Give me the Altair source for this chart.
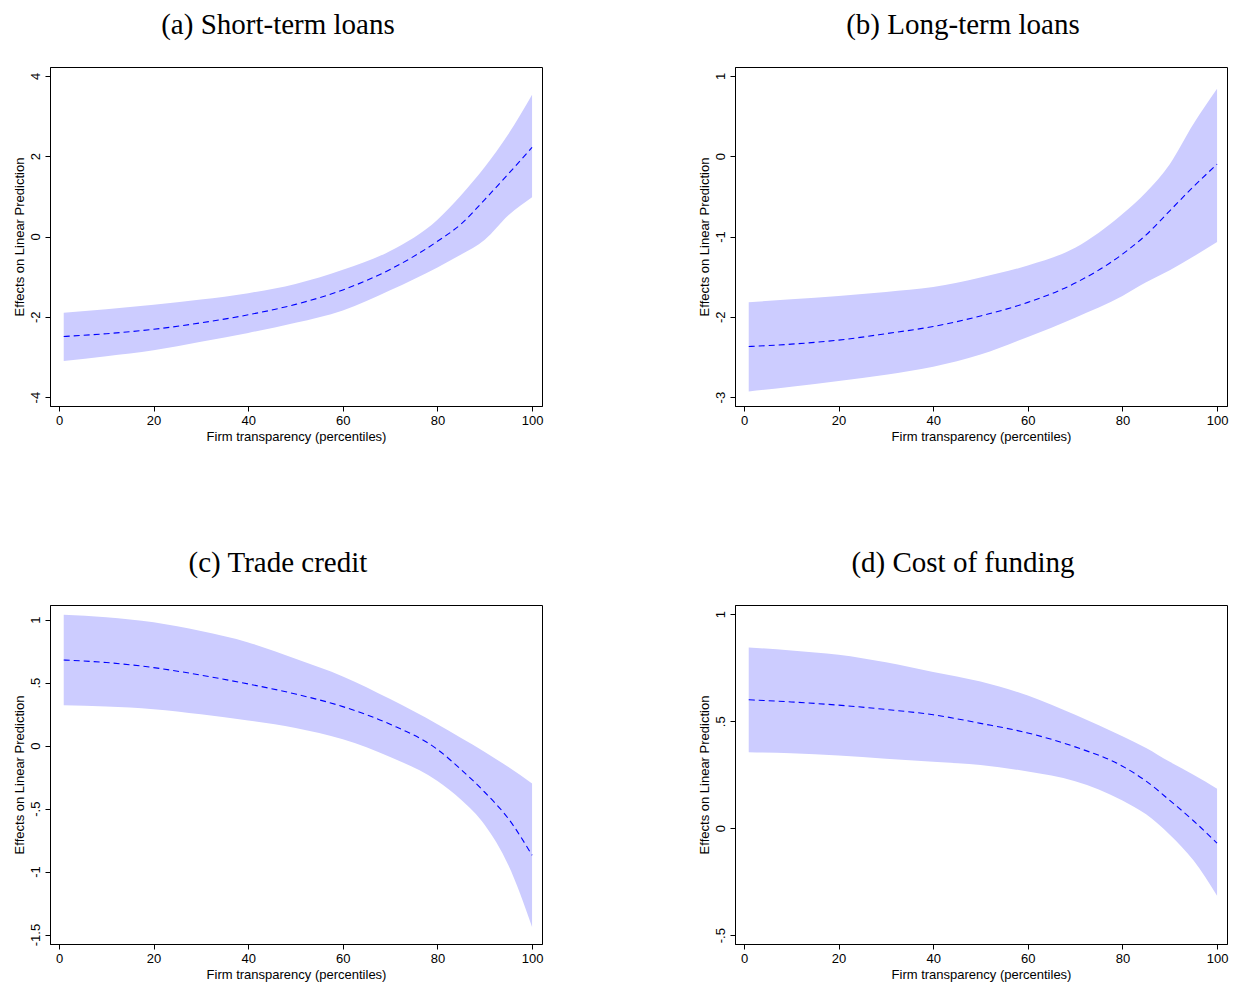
import altair as alt
import pandas as pd

# Firm transparency percentiles at which margins are evaluated
x_pct = [1, 10, 20, 30, 40, 50, 60, 70, 80, 85, 90, 95, 100]

# (a) Short-term loans
a_mid = [-2.49, -2.42, -2.31, -2.15, -1.95, -1.69, -1.33, -0.82, -0.12, 0.31, 0.92, 1.56, 2.22]
a_hi = [-1.90, -1.81, -1.70, -1.57, -1.41, -1.18, -0.83, -0.36, 0.42, 1.03, 1.73, 2.55, 3.53]
a_lo = [-3.10, -2.98, -2.83, -2.62, -2.40, -2.15, -1.84, -1.34, -0.77, -0.45, -0.08, 0.53, 0.98]

# (b) Long-term loans
b_mid = [-2.37, -2.34, -2.29, -2.21, -2.12, -1.99, -1.82, -1.58, -1.22, -0.98, -0.68, -0.38, -0.10]
b_hi = [-1.82, -1.78, -1.74, -1.69, -1.63, -1.51, -1.36, -1.14, -0.72, -0.45, -0.10, 0.40, 0.84]
b_lo = [-2.93, -2.87, -2.80, -2.72, -2.62, -2.47, -2.25, -2.01, -1.74, -1.57, -1.42, -1.25, -1.07]

# (c) Trade credit
c_mid = [0.68, 0.66, 0.62, 0.56, 0.49, 0.41, 0.31, 0.17, -0.03, -0.19, -0.37, -0.58, -0.87]
c_hi = [1.04, 1.02, 0.98, 0.91, 0.82, 0.69, 0.55, 0.37, 0.17, 0.06, -0.05, -0.17, -0.30]
c_lo = [0.32, 0.31, 0.29, 0.25, 0.20, 0.14, 0.05, -0.09, -0.28, -0.43, -0.63, -0.95, -1.44]

# (d) Cost of funding
d_mid = [0.60, 0.59, 0.575, 0.555, 0.53, 0.49, 0.445, 0.38, 0.29, 0.22, 0.13, 0.035, -0.07]
d_hi = [0.845, 0.83, 0.81, 0.775, 0.73, 0.685, 0.62, 0.53, 0.43, 0.375, 0.31, 0.25, 0.185]
d_lo = [0.355, 0.35, 0.34, 0.325, 0.31, 0.295, 0.265, 0.22, 0.13, 0.065, -0.03, -0.15, -0.315]

panel_titles = ["(a) Short-term loans", "(b) Long-term loans", "(c) Trade credit", "(d) Cost of funding"]
y_domains = [[-4.22, 4.22], [-3.11, 1.11], [-1.575, 1.117], [-0.541, 1.043]]
y_ticks = [[-4, -2, 0, 2, 4], [-3, -2, -1, 0, 1], [-1.5, -1, -0.5, 0, 0.5, 1], [-0.5, 0, 0.5, 1]]
x_ticks = [0, 20, 40, 60, 80, 100]
x_domain = [-1.9, 102.1]

x_title = "Firm transparency (percentiles)"
y_title = "Effects on Linear Prediction"

label_expr = "replace('' + datum.value, '0.', '.')"


def panel(title, mid, lo, hi, ydom, yticks):
    df = pd.DataFrame({"x": x_pct, "mid": mid, "lo": lo, "hi": hi})
    xenc = alt.X("x:Q", scale=alt.Scale(domain=x_domain, nice=False, zero=False),
                 axis=alt.Axis(values=x_ticks, title=x_title, format="d"))
    yscale = alt.Scale(domain=ydom, nice=False, zero=False)
    yaxis = alt.Axis(values=yticks, title=y_title, labelAngle=-90,
                     labelAlign="center", labelBaseline="bottom",
                     labelExpr=label_expr)
    band = alt.Chart(df).mark_area(color="#ccccff", opacity=1, interpolate="monotone").encode(
        x=xenc,
        y=alt.Y("lo:Q", scale=yscale, axis=yaxis),
        y2="hi:Q",
    )
    line = alt.Chart(df).mark_line(color="#0000ff", strokeDash=[6, 4], strokeWidth=1.1,
                                   interpolate="monotone").encode(
        x="x:Q",
        y="mid:Q",
    )
    return alt.layer(band, line).properties(
        width=492, height=339,
        title=alt.TitleParams(title, font="Liberation Serif", fontSize=29,
                              fontWeight="normal", color="black", offset=27,
                              anchor="middle", frame="bounds"),
    )


pa = panel(panel_titles[0], a_mid, a_lo, a_hi, y_domains[0], y_ticks[0])
pb = panel(panel_titles[1], b_mid, b_lo, b_hi, y_domains[1], y_ticks[1])
pc = panel(panel_titles[2], c_mid, c_lo, c_hi, y_domains[2], y_ticks[2])
pd_ = panel(panel_titles[3], d_mid, d_lo, d_hi, y_domains[3], y_ticks[3])

row1 = alt.hconcat(pa, pb, spacing=153)
row2 = alt.hconcat(pc, pd_, spacing=153)

chart = alt.vconcat(row1, row2, spacing=104).properties(
    padding={"left": 4, "top": 2, "right": 0, "bottom": 0},
    background="white",
).configure_view(
    stroke="black", strokeWidth=1
).configure_axis(
    grid=False,
    domainColor="black",
    tickColor="black",
    tickSize=5,
    labelColor="black",
    titleColor="black",
    labelFont="Liberation Sans",
    titleFont="Liberation Sans",
    labelFontSize=13,
    titleFontSize=13,
    titleFontWeight="normal",
    labelPadding=3,
    titlePadding=3,
)

chart.save("out.html", embed_options={"renderer": "svg", "actions": False})
